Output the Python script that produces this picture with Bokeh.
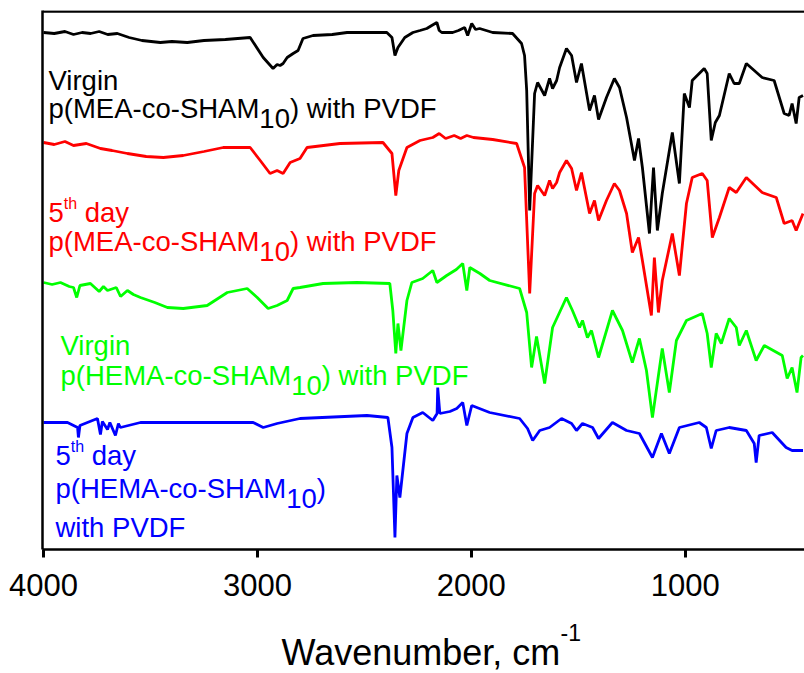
from bokeh.plotting import figure
from bokeh.models import Range1d, Span, Label, FixedTicker
from bokeh.layouts import column
from bokeh.embed import file_html
from bokeh.resources import INLINE

# ---------------- data (wavenumber in cm-1, transmittance in arbitrary offset units) ----------------
virgin_mea_wn = [4000, 3950, 3900, 3860, 3820, 3780, 3740, 3700, 3655, 3600, 3540, 3454, 3400, 3328, 3250,
                 3150, 3034, 2973, 2927, 2908, 2894, 2880, 2861, 2833, 2810, 2787, 2740, 2650, 2581, 2480,
                 2395, 2371, 2357, 2343, 2311, 2273, 2240, 2208, 2185, 2161, 2150, 2138, 2087, 2060, 2031,
                 2017, 1998, 1980, 1961, 1900, 1807, 1765, 1751, 1741, 1727, 1704, 1690, 1657, 1634, 1620,
                 1601, 1587, 1555, 1531, 1508, 1485, 1447, 1424, 1405, 1368, 1331, 1307, 1274, 1237, 1218,
                 1200, 1167, 1148, 1130, 1107, 1060, 1027, 1004, 980, 967, 911, 897, 878, 859, 840,
                 794, 771, 747, 714, 640, 584, 537, 514, 500, 481, 467, 449]
virgin_mea_t = [517, 516, 518, 515, 517, 516, 518, 515, 516, 512, 509, 507, 508, 507, 509,
                510, 512, 492, 481, 485, 484, 486, 492, 496, 499, 511, 514, 515, 517, 517,
                517, 512, 494, 502, 512, 517, 519, 521, 524, 527, 519, 517, 517, 519, 522,
                514, 526, 520, 521, 517, 516, 506, 494, 459, 339, 456, 467, 454, 471, 461,
                469, 482, 501, 494, 467, 486, 439, 454, 430, 452, 471, 462, 432, 389, 411,
                382, 316, 382, 319, 356, 417, 366, 456, 442, 469, 481, 476, 409, 427, 434,
                476, 466, 466, 486, 472, 469, 436, 434, 446, 426, 452, 454]

day5_mea_wn = [4000, 3950, 3900, 3860, 3800, 3734, 3680, 3608, 3520, 3440, 3347, 3250, 3160, 3034, 2987,
               2941, 2908, 2880, 2847, 2801, 2768, 2614, 2413, 2371, 2353, 2339, 2301, 2240, 2180, 2150,
               2120, 2080, 2050, 2021, 1990, 1900, 1788, 1751, 1727, 1704, 1690, 1657, 1634, 1620, 1601,
               1587, 1555, 1531, 1508, 1485, 1447, 1424, 1405, 1368, 1331, 1307, 1274, 1247, 1218, 1200,
               1158, 1144, 1125, 1107, 1060, 1027, 994, 967, 920, 897, 873, 840, 794, 761, 714,
               640, 574, 537, 500, 481, 449]
day5_mea_t = [407, 405, 408, 404, 406, 401, 399, 396, 393, 392, 394, 398, 402, 402, 389,
              376, 379, 376, 387, 391, 402, 406, 407, 396, 354, 379, 402, 409, 412, 416,
              411, 414, 411, 414, 412, 410, 406, 382, 256, 356, 364, 354, 369, 361, 367,
              377, 389, 381, 359, 377, 336, 349, 329, 349, 366, 359, 336, 297, 312, 289,
              234, 292, 237, 269, 316, 274, 346, 372, 376, 369, 312, 332, 362, 357, 372,
              357, 352, 326, 329, 319, 336]

virgin_hema_wn = [4000, 3960, 3921, 3880, 3860, 3845, 3830, 3781, 3740, 3720, 3701, 3660, 3640, 3608, 3580,
                  3547, 3480, 3421, 3347, 3235, 3141, 3048, 3001, 2950, 2908, 2861, 2833, 2801, 2693, 2535,
                  2381, 2367, 2353, 2343, 2329, 2301, 2278, 2227, 2180, 2161, 2115, 2070, 2040, 2021, 2007,
                  1960, 1914, 1774, 1741, 1718, 1695, 1657, 1620, 1555, 1527, 1494, 1480, 1457, 1438, 1405,
                  1340, 1293, 1247, 1214, 1181, 1153, 1107, 1074, 1041, 994, 920, 897, 878, 855, 831,
                  794, 761, 747, 714, 668, 630, 546, 523, 500, 477, 458, 449]
virgin_hema_t = [267, 265, 267, 263, 262, 252, 264, 266, 258, 263, 259, 262, 253, 259, 255,
                 252, 247, 242, 241, 244, 257, 261, 252, 241, 244, 249, 261, 262, 266, 267,
                 266, 239, 196, 226, 199, 249, 267, 271, 279, 267, 274, 280, 286, 259, 282,
                 276, 269, 261, 237, 182, 213, 166, 222, 252, 239, 222, 229, 212, 219, 192,
                 239, 219, 187, 211, 179, 132, 201, 157, 209, 229, 236, 216, 182, 216, 206,
                 231, 222, 204, 219, 189, 204, 194, 171, 182, 157, 192, 194]

day5_hema_wn = [4000, 3888, 3841, 3837, 3830, 3795, 3748, 3734, 3725, 3701, 3690, 3664, 3650, 3641, 3547,
                3267, 3020, 2973, 2908, 2801, 2488, 2390, 2371, 2357, 2348, 2334, 2301, 2273, 2227, 2180,
                2160, 2157, 2147, 2100, 2068, 2040, 2021, 1998, 1914, 1774, 1737, 1713, 1680, 1634, 1578,
                1531, 1508, 1480, 1433, 1405, 1340, 1274, 1214, 1153, 1111, 1074, 1027, 934, 901, 878,
                855, 794, 714, 677, 668, 654, 593, 528, 500, 449]
day5_hema_t = [127, 127, 122, 112, 124, 127, 131, 115, 128, 120, 127, 114, 126, 122, 127,
               127, 127, 122, 126, 131, 134, 132, 102, 12, 74, 52, 116, 132, 137, 129,
               136, 162, 136, 138, 141, 147, 124, 144, 137, 131, 121, 109, 119, 122, 131,
               126, 119, 126, 122, 111, 127, 119, 116, 92, 116, 96, 122, 127, 122, 101,
               119, 122, 119, 106, 87, 114, 117, 102, 99, 99]

x_ticks = [1000, 2000, 3000, 4000]
x_title = "Wavenumber, cm"
x_title_sup = "-1"

# ---------------- main figure ----------------
FONT = "Liberation Sans"
W_PLOT = 804
H_MAIN, H_TITLE = 616, 57
LEFT = 42
X0, X1 = 4005, 442
p = figure(width=W_PLOT, height=H_MAIN, output_backend="svg", toolbar_location=None,
           x_range=Range1d(X0, X1), y_range=Range1d(0, 539),
           min_border_left=LEFT, min_border_right=0, min_border_top=10, min_border_bottom=H_MAIN - 549)
p.outline_line_color = None
p.xgrid.visible = False
p.ygrid.visible = False
p.background_fill_color = "white"
p.border_fill_color = "white"

lw = 2.8
p.line(virgin_mea_wn, virgin_mea_t, line_color="#000000", line_width=lw)
p.line(day5_mea_wn, day5_mea_t, line_color="#ff0000", line_width=lw)
p.line(virgin_hema_wn, virgin_hema_t, line_color="#00ff00", line_width=lw)
p.line(day5_hema_wn, day5_hema_t, line_color="#0000ff", line_width=lw)

xa = p.xaxis[0]
xa.ticker = FixedTicker(ticks=x_ticks)
xa.axis_line_width = 2.5
xa.major_tick_line_width = 3
xa.major_tick_out = 8
xa.major_tick_in = 0
xa.minor_tick_line_color = None
xa.major_label_text_font = FONT
xa.major_label_text_font_size = "31px"
xa.major_label_text_color = "black"
xa.major_label_standoff = 16

ya = p.yaxis[0]
ya.ticker = FixedTicker(ticks=[])
ya.axis_line_width = 2.5
ya.major_tick_line_color = None
ya.minor_tick_line_color = None

p.add_layout(Span(location=538, dimension="width", line_color="black", line_width=2.5))

# ---------------- text helpers ----------------
CW = {" ": .278, "(": .333, ")": .333, "-": .333, ",": .278, "0": .556, "1": .556, "5": .556,
      "A": .667, "D": .722, "E": .667, "F": .611, "H": .722, "M": .833, "P": .667, "S": .667,
      "V": .667, "W": .944, "a": .556, "b": .556, "c": .5, "d": .556, "e": .556, "g": .556,
      "h": .556, "i": .222, "m": .833, "n": .556, "o": .556, "p": .556, "r": .333, "t": .278,
      "u": .556, "v": .5, "w": .722, "y": .5}
SX = (W_PLOT - LEFT) / (X0 - X1)
MID = 0.3465  # distance baseline -> middle of text box, in em


def tw(s, size):
    return sum(CW.get(c, .556) for c in s) * size


def add_text(fig, to_x, to_y, parts, x_px, base_px, color):
    x = x_px
    for part in parts:
        txt, size, dy = part[:3]
        dx = part[3] if len(part) > 3 else 0
        lead = len(txt) - len(txt.lstrip(" "))
        x += tw(" " * lead, size) + dx
        txt = txt.lstrip(" ")
        mid_px = base_px + dy - MID * size
        fig.add_layout(Label(x=to_x(x), y=to_y(mid_px), text=txt, text_font=FONT,
                             text_font_size=f"{size}px", text_color=color,
                             text_baseline="middle", text_align="left"))
        x += tw(txt, size)


def px2wn(px):
    return X0 - (px - LEFT) / SX


def py2t(py):
    return 549 - py


FS = 27.5
SUB = 10
ann = lambda parts, x, b, c: add_text(p, px2wn, py2t, parts, x, b, c)
ann([("Virgin", FS, 0)], 48, 90, "#000000")
ann([("p(MEA-co-SHAM", FS, 0), ("10", FS, SUB), (") with PVDF", FS, 0)], 48, 118, "#000000")

ann([("5", FS, 0), ("th", 16, -13), (" day", FS, 0)], 48, 222, "#ff0000")
ann([("p(MEA-co-SHAM", FS, 0), ("10", FS, SUB), (") with PVDF", FS, 0)], 48, 251, "#ff0000")

ann([("Virgin", FS, 0)], 60, 355, "#00ff00")
ann([("p(HEMA-co-SHAM", FS, 0), ("10", FS, SUB), (") with PVDF", FS, 0)], 60, 385, "#00ff00")

ann([("5", FS, 0), ("th", 16, -13), (" day", FS, 0)], 55, 465, "#0000ff")
ann([("p(HEMA-co-SHAM", FS, 0), ("10", FS, SUB), (")", FS, 0)], 55, 498, "#0000ff")
ann([("with PVDF", FS, 0)], 55, 537, "#0000ff")

# ---------------- x-axis title strip (its frame is aligned with the main frame: x 42..804) ----------------
t = figure(width=W_PLOT, height=H_TITLE, output_backend="svg", toolbar_location=None,
           x_range=Range1d(LEFT, W_PLOT), y_range=Range1d(0, H_TITLE),
           min_border=0, min_border_left=0, min_border_right=0, min_border_top=0, min_border_bottom=0)
t.axis.visible = False
t.grid.visible = False
t.outline_line_color = None
t.background_fill_color = "white"
t.border_fill_color = "white"
add_text(t, lambda px: px, lambda py: H_TITLE - (py - H_MAIN),
         [(x_title, 36, 0), (x_title_sup, 23, -24, -3)], 281, 664, "#000000")

layout = column(p, t, spacing=0)
open("out.html", "w").write(file_html(layout, INLINE))
